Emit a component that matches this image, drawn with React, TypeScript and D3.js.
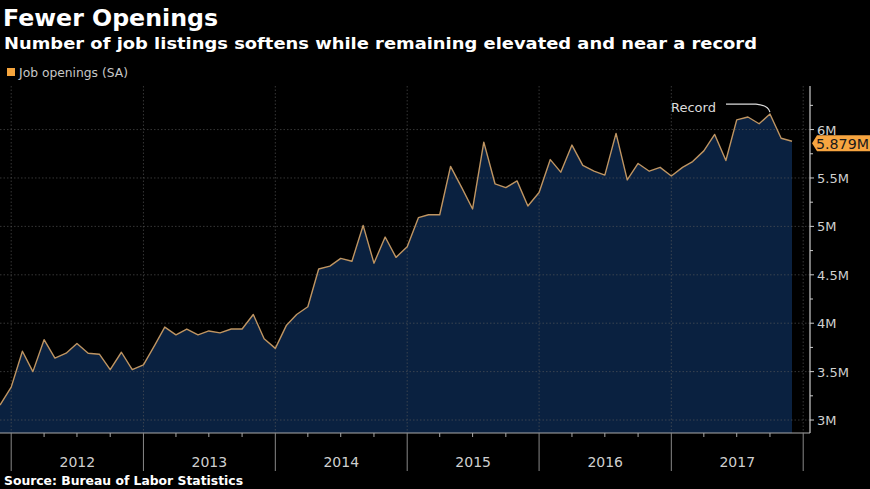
import React from "react";
import * as d3 from "d3";

const TITLE = "Fewer Openings";
const SUBTITLE = "Number of job listings softens while remaining elevated and near a record";
const LEGEND = "Job openings (SA)";
const SOURCE = "Source: Bureau of Labor Statistics";
const START_MONTH = "2011-11";
// Job openings, millions, monthly Nov 2011 – Nov 2017
const values = [
  3.155, 3.34, 3.71, 3.5, 3.83, 3.64, 3.69, 3.79, 3.69, 3.68,
  3.52, 3.7, 3.52, 3.57, 3.77, 3.96, 3.88, 3.94, 3.88, 3.92,
  3.9, 3.94, 3.94, 4.09, 3.84, 3.74, 3.98, 4.09, 4.17, 4.56,
  4.59, 4.67, 4.64, 5.01, 4.62, 4.89, 4.68, 4.79, 5.09, 5.12,
  5.12, 5.62, 5.4, 5.18, 5.87, 5.44, 5.4, 5.47, 5.21, 5.35,
  5.69, 5.56, 5.84, 5.63, 5.57, 5.53, 5.96, 5.48, 5.65, 5.57,
  5.61, 5.52, 5.61, 5.67, 5.78, 5.95, 5.68, 6.1, 6.13, 6.06,
  6.16, 5.91, 5.879,
];
const yTicks = [3, 3.5, 4, 4.5, 5, 5.5, 6];
const yMinorTicks = [3.25, 3.75, 4.25, 4.75, 5.25, 5.75, 6.25];
const years = [2012, 2013, 2014, 2015, 2016, 2017];
const lastLabel = "5.879M";
const recordLabel = "Record";

const W = 870;
const H = 489;
const FONT = "'DejaVu Sans', 'Open Sans', sans-serif";

export default function App() {
  const start = d3.timeParse("%Y-%m")(START_MONTH) as Date;
  // points plotted at month end (start of following month)
  const dates = values.map((_, i) => d3.timeMonth.offset(start, i + 1));
  const x = d3.scaleTime().domain([dates[0], dates[dates.length - 1]]).range([0, 792]);
  const y = d3.scaleLinear().domain([2.866, 6.45]).range([433, 86]);
  const plotRight = 810;
  const baseY = 433;
  const topY = 86;

  const data = values.map((v, i) => ({ d: dates[i], v }));
  const area = d3
    .area<{ d: Date; v: number }>()
    .x((p) => x(p.d))
    .y0(baseY)
    .y1((p) => y(p.v));
  const line = d3
    .line<{ d: Date; v: number }>()
    .x((p) => x(p.d))
    .y((p) => y(p.v));

  const yearStarts = d3.timeYear.range(new Date(2012, 0, 1), new Date(2018, 0, 2));
  const quarters = d3.timeMonth
    .range(new Date(2012, 0, 1), new Date(2018, 0, 2), 3)
    .filter((d) => d.getMonth() !== 0);

  const recIdx = values.indexOf(d3.max(values) as number);
  const rx = x(dates[recIdx]);
  const ry = y(values[recIdx]);
  const lastY = y(values[values.length - 1]) + 2;

  const fmt = (v: number) => `${v}M`;

  return (
    <svg
      width={W}
      height={H}
      style={{ position: "absolute", left: 0, top: 0, background: "#000" }}
      fontFamily={FONT}
    >
      <rect x={0} y={0} width={W} height={H} fill="#000" />
      {/* Titles */}
      <text x={3} y={26} fill="#fff" fontSize={22.5} fontWeight="bold" textLength={215} lengthAdjust="spacingAndGlyphs">
        {TITLE}
      </text>
      <text x={4} y={49} fill="#fff" fontSize={16.5} fontWeight="bold" textLength={753} lengthAdjust="spacingAndGlyphs">
        {SUBTITLE}
      </text>
      {/* Legend */}
      <rect x={7} y={68} width={8} height={8} fill="#f5a53e" />
      <text x={19} y={77} fill="#c8c8c8" fontSize={11.5} textLength={109} lengthAdjust="spacingAndGlyphs">
        {LEGEND}
      </text>

      {/* Area */}
      <path d={area(data) as string} fill="#0a2140" />

      {/* Gridlines */}
      {yTicks.map((t) => (
        <line
          key={"hg" + t}
          x1={0}
          x2={plotRight}
          y1={y(t)}
          y2={y(t)}
          stroke="#5a5a5a"
          strokeOpacity={0.6}
          strokeDasharray="1.5,2"
        />
      ))}
      {yearStarts.map((d) => (
        <line
          key={"vg" + d.getFullYear()}
          x1={x(d)}
          x2={x(d)}
          y1={topY}
          y2={baseY}
          stroke="#5a5a5a"
          strokeOpacity={0.6}
          strokeDasharray="1.5,2"
        />
      ))}

      <path d={line(data) as string} fill="none" stroke="#bf9562" strokeWidth={1.4} strokeLinejoin="round" />

      {/* Bottom axis */}
      <line x1={0} x2={plotRight} y1={baseY} y2={baseY} stroke="#aaa" strokeWidth={1} />
      {quarters.map((d, i) => (
        <line key={"q" + i} x1={x(d)} x2={x(d)} y1={baseY} y2={baseY + 4} stroke="#aaa" />
      ))}
      {yearStarts.map((d) => (
        <line
          key={"yb" + d.getFullYear()}
          x1={x(d)}
          x2={x(d)}
          y1={baseY}
          y2={471}
          stroke="#888"
        />
      ))}
      {years.map((yr) => {
        const a = x(new Date(yr, 0, 1));
        const b = x(new Date(yr + 1, 0, 1));
        return (
          <text key={"yl" + yr} x={(a + b) / 2} y={467} fill="#cfcfcf" fontSize={14} textAnchor="middle">
            {yr}
          </text>
        );
      })}

      {/* Right axis */}
      <line x1={plotRight} x2={plotRight} y1={topY} y2={baseY} stroke="#ccc" strokeWidth={1.2} />
      {yMinorTicks.map((t) => (
        <line key={"ym" + t} x1={plotRight} x2={plotRight + 3} y1={y(t)} y2={y(t)} stroke="#ccc" />
      ))}
      {yTicks.map((t) => (
        <g key={"yt" + t}>
          <line x1={plotRight} x2={plotRight + 4} y1={y(t)} y2={y(t)} stroke="#ccc" />
          <text x={817} y={y(t) + 5} fill="#d0d0d0" fontSize={13}>
            {fmt(t)}
          </text>
        </g>
      ))}

      {/* Last value label */}
      <path
        d={`M${plotRight + 2},${lastY} L${plotRight + 7},${lastY - 8} L870,${lastY - 8} L870,${lastY + 8} L${plotRight + 7},${lastY + 8} Z`}
        fill="#f7a540"
      />
      <text x={816} y={lastY + 5.5} fill="#1a1a1a" fontSize={14} textLength={53} lengthAdjust="spacingAndGlyphs">
        {lastLabel}
      </text>

      {/* Record annotation */}
      <text x={671} y={112} fill="#dcdcdc" fontSize={13}>
        {recordLabel}
      </text>
      <path
        d={`M${rx - 44},${ry - 10} L${rx - 14},${ry - 10} Q${rx - 2},${ry - 9} ${rx},${ry - 2}`}
        fill="none"
        stroke="#dcdcdc"
        strokeWidth={1.2}
      />

      {/* Source */}
      <text x={4} y={485} fill="#fff" fontSize={12.5} fontWeight="bold" textLength={239} lengthAdjust="spacingAndGlyphs">
        {SOURCE}
      </text>
    </svg>
  );
}
